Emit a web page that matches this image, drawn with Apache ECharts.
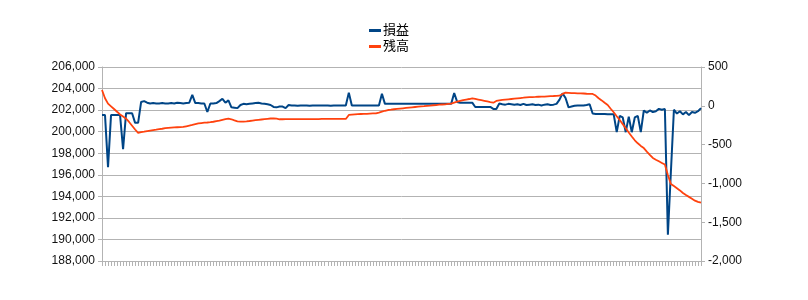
<!DOCTYPE html>
<html><head><meta charset="utf-8">
<script src="https://cdn.jsdelivr.net/npm/echarts@6/dist/echarts.min.js"></script>
<style>html,body{margin:0;padding:0;background:#fff}#c{width:808px;height:300px}</style>
</head><body><div id="c"></div>
<script>
var categories = [];
for (var k = 1; k <= 200; k++) categories.push(String(k));

var leftTicks = { min: 188000, max: 206000, interval: 2000 };
var rightTicks = { min: -2000, max: 500, interval: 500 };

var profitName = '損益';
var balanceName = '残高';

var profit = [
 -120, -120, -790, -120, -120, -120, -120, -560, -95, -95,
 -95, -220, -220, 50, 60, 40, 30, 35, 30, 30,
 35, 30, 30, 35, 30, 40, 35, 30, 35, 40,
 140, 35, 35, 30, 30, -80, 30, 30, 35, 60,
 90, 40, 70, -20, -25, -30, 10, 25, 20, 25,
 30, 35, 40, 30, 25, 20, 10, -15, -20, -10,
 -10, -30, 10, 5, 5, 0, 5, 5, 5, 0,
 5, 5, 5, 5, 5, 5, 0, 5, 5, 5,
 5, 5, 170, 5, 5, 5, 5, 5, 5, 5,
 5, 5, 5, 155, 25, 25, 25, 25, 25, 25,
 25, 25, 25, 25, 25, 25, 25, 25, 25, 25,
 25, 25, 25, 25, 25, 25, 25, 165, 50, 40,
 40, 40, 40, 40, -15, -15, -15, -15, -15, -15,
 -40, -40, 30, 20, 15, 25, 20, 15, 20, 10,
 25, 10, 15, 20, 10, 15, 5, 15, 20, 10,
 15, 25, 80, 160, 100, -20, -10, 0, 5, 5,
 5, 10, 20, -100, -105, -105, -105, -105, -110, -110,
 -110, -340, -130, -150, -340, -140, -340, -150, -130, -340,
 -60, -90, -60, -80, -70, -40, -50, -40, -1660, -850,
 -50, -100, -70, -110, -80, -120, -80, -90, -70, -30
];

var balance = [
 203870, 203100, 202600, 202350, 202100, 201850, 201600, 201400, 201200, 200900,
 200550, 200200, 199880, 199950, 200000, 200060, 200100, 200140, 200180, 200230,
 200270, 200320, 200350, 200370, 200390, 200410, 200420, 200440, 200500, 200560,
 200620, 200690, 200760, 200800, 200830, 200850, 200880, 200920, 200980, 201020,
 201100, 201160, 201200, 201150, 201050, 200960, 200930, 200940, 200960, 200990,
 201030, 201070, 201100, 201130, 201160, 201190, 201220, 201240, 201200, 201150,
 201150, 201160, 201160, 201160, 201160, 201170, 201170, 201170, 201170, 201170,
 201170, 201170, 201170, 201180, 201180, 201180, 201180, 201180, 201180, 201180,
 201180, 201180, 201550, 201580, 201600, 201620, 201640, 201650, 201660, 201680,
 201690, 201700, 201760, 201850, 201940, 202010, 202040, 202080, 202110, 202140,
 202170, 202200, 202230, 202260, 202290, 202320, 202350, 202370, 202400, 202420,
 202450, 202470, 202500, 202520, 202540, 202570, 202600, 202700, 202780, 202850,
 202920, 202980, 203030, 203100, 203040, 202980, 202920, 202860, 202800, 202740,
 202690, 202850, 202900, 202940, 202970, 203000, 203030, 203060, 203090, 203120,
 203150, 203190, 203200, 203210, 203220, 203240, 203250, 203260, 203280, 203300,
 203310, 203330, 203340, 203500, 203620, 203600, 203580, 203570, 203560, 203550,
 203540, 203520, 203510, 203500, 203350, 203100, 202900, 202680, 202470, 202130,
 201800, 201430, 201080, 200700, 200310, 199920, 199550, 199200, 198920, 198680,
 198480, 198150, 197850, 197560, 197400, 197250, 197100, 196950, 195980, 195150,
 194950, 194750, 194550, 194310, 194120, 193950, 193780, 193600, 193480, 193410
];

var FONT = '"Liberation Sans", "Noto Sans CJK JP", sans-serif';
var fmt = function (v) { return Number(v).toLocaleString('en-US'); };

var chart = echarts.init(document.getElementById('c'), null, { renderer: 'canvas' });
chart.setOption({
  animation: false,
  backgroundColor: '#ffffff',
  legend: {
    orient: 'vertical', left: 364, top: 19, itemGap: 3,
    itemWidth: 12, itemHeight: 3, icon: 'rect',
    textStyle: { fontSize: 13, color: '#000', fontFamily: FONT, padding: [0, 0, 0, -3] },
    data: [profitName, balanceName]
  },
  grid: { left: 102, right: 107, top: 67, bottom: 39, containLabel: false },
  xAxis: {
    type: 'category', data: categories, boundaryGap: false,
    axisLine: { onZero: false, lineStyle: { color: '#b3b3b3', width: 1 } },
    axisTick: { show: true, interval: 0, length: 5, lineStyle: { color: '#b3b3b3' } },
    axisLabel: { show: false },
    splitLine: { show: false }
  },
  yAxis: [
    {
      type: 'value', position: 'left', min: leftTicks.min, max: leftTicks.max, interval: leftTicks.interval,
      axisLine: { show: true, lineStyle: { color: '#b3b3b3' } },
      axisTick: { show: true, length: 4, lineStyle: { color: '#b3b3b3' } },
      axisLabel: { formatter: fmt, fontSize: 12, color: '#111', fontFamily: FONT, margin: 7 },
      splitLine: { show: true, lineStyle: { color: '#b3b3b3', width: 1 } }
    },
    {
      type: 'value', position: 'right', min: rightTicks.min, max: rightTicks.max, interval: rightTicks.interval,
      axisLine: { show: true, lineStyle: { color: '#b3b3b3' } },
      axisTick: { show: true, length: 4, lineStyle: { color: '#b3b3b3' } },
      axisLabel: { formatter: fmt, fontSize: 12, color: '#111', fontFamily: FONT, margin: 7 },
      splitLine: { show: false }
    }
  ],
  series: [
    {
      name: profitName, type: 'line', yAxisIndex: 1, data: profit,
      symbol: 'none', color: '#004586',
      lineStyle: { color: '#004586', width: 2 }
    },
    {
      name: balanceName, type: 'line', yAxisIndex: 0, data: balance,
      symbol: 'none', color: '#ff420e',
      lineStyle: { color: '#ff420e', width: 1.8 }
    }
  ]
});
</script>
</body></html>
